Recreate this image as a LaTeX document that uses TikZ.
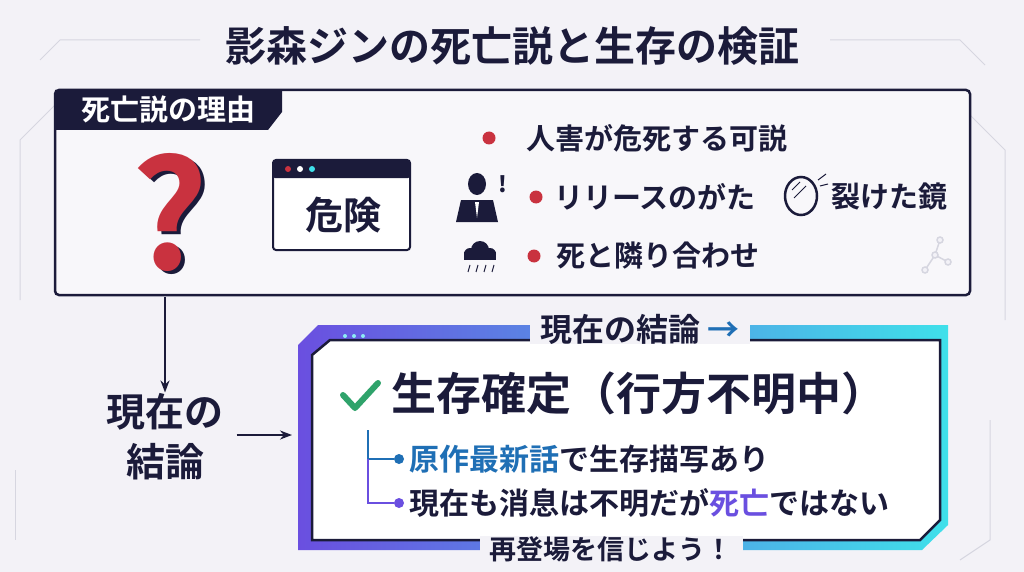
\documentclass[tikz,border=0pt]{standalone}
\usepackage{fontspec}
\setmainfont{Noto Sans CJK JP}[BoldFont={* Bold}]
\usetikzlibrary{arrows.meta}
\definecolor{navy}{HTML}{1B1B3A}
\definecolor{bgc}{HTML}{F3F2F7}
\definecolor{redd}{HTML}{C9323F}
\definecolor{blu}{HTML}{1F6FB5}
\definecolor{purp}{HTML}{6A4FE0}
\definecolor{cyn}{HTML}{3FE0EA}
\definecolor{grn}{HTML}{2FA36B}
\definecolor{faint}{HTML}{D6D6E0}
\tikzset{
  txt/.style={font=\bfseries, text=navy, inner sep=1pt},
  reason/.style={txt, anchor=west, font=\bfseries\fontsize{29}{32}\selectfont},
  bullet/.style={circle, fill=redd, minimum size=13pt, inner sep=0pt},
  circuit/.style={faint, line width=1pt}
}
\begin{document}
\begin{tikzpicture}[x=1pt,y=-1pt]
\useasboundingbox[fill=bgc] (0,0) rectangle (1024,572);
% background traces
\draw[circuit] (20,300) -- (20,140) -- (60,100) -- (200,100);
\draw[circuit] (1005,320) -- (1005,150) -- (970,115);
\draw[circuit] (990,420) -- (990,540) -- (960,560);
\draw[circuit] (15,470) -- (15,540);
\draw[circuit] (200,40) -- (60,40) -- (40,60);
\draw[circuit] (830,40) -- (960,40) -- (985,65);
% title
\node[txt, font=\bfseries\fontsize{41}{44}\selectfont] (title) at (512,46) {影森ジンの死亡説と生存の検証};
% reasons panel
\draw[navy, line width=2.5pt, rounded corners=4pt, fill=bgc!60!white] (55,90) rectangle (970,295);
\fill[navy] (55,90) -- (282,90) -- (282,112) -- (268,130) -- (55,130) -- cycle;
\node[font=\bfseries\fontsize{29}{32}\selectfont, text=white] (tab) at (168,110) {死亡説の理由};
\fill[navy] (174,215) node[font=\bfseries\fontsize{150}{150}\selectfont, text=navy] {?};
\node[font=\bfseries\fontsize{150}{150}\selectfont, text=redd] (qm) at (170,212) {?};
% danger window
\draw[navy, line width=2pt, fill=white, rounded corners=3pt] (273,160) rectangle (410,250);
\fill[navy, rounded corners=2pt] (273,160) rectangle (410,178);
\fill[redd] (288,169) circle (3pt);
\fill[white] (300,169) circle (3pt);
\fill[cyn] (312,169) circle (3pt);
\node[txt, font=\bfseries\fontsize{38}{40}\selectfont] (danger) at (343,215) {危険};
% reason bullets
\node[bullet] (b1) at (489,138) {};
\node[bullet] (b2) at (536,197) {};
\node[bullet] (b3) at (534,256) {};
\node[reason] (r1) at (525,138) {人害が危死する可説};
\node[reason] (r2) at (553,197) {リリースのがた};
\node[reason] (r2b) at (830,197) {裂けた鏡};
\node[reason] (r3) at (555,256) {死と隣り合わせ};
% icons
\fill[navy] (477,184) ellipse (9pt and 11pt);
\fill[navy] (456,222) -- (461,200) -- (493,200) -- (498,222) -- cycle;
\fill[white] (475,202) -- (479,202) -- (477,218) -- cycle;
\node[txt, font=\bfseries\itshape\fontsize{22}{22}\selectfont] at (503,184) {!};
\draw[navy, line width=2.5pt] (801,196) ellipse (16pt and 19pt);
\draw[navy, line width=1pt] (792,190) -- (800,182) (794,198) -- (806,186) (818,180) -- (826,174) (820,186) -- (828,184);
\fill[navy] (480,250) circle (9pt) (470,254) circle (6pt) (490,254) circle (6pt);
\fill[navy] (464,252) rectangle (496,260);
\draw[navy, line width=1pt] (470,265) -- (468,272) (478,265) -- (476,272) (486,265) -- (484,272) (494,265) -- (492,272);
\draw[faint, line width=1.5pt] (925,270) -- (935,255) -- (948,262) (935,255) -- (940,240);
\foreach \p in {(925,270),(935,255),(948,262),(940,240)} \draw[faint, line width=1.5pt, fill=bgc] \p circle (3pt);
% flow to conclusion
\node[txt, font=\bfseries\fontsize{39}{50}\selectfont, align=center] (concl) at (165,437) {現在の\\結論};
\coordinate (qbot) at (165,297);
\draw[navy, line width=2pt, -{Stealth[length=12pt]}] (qbot) -- (concl.north);
\coordinate (pleft) at (292,435);
\draw[navy, line width=2pt, -{Stealth[length=12pt]}] (concl.east) ++(12,-2) -- (pleft);
% conclusion panel
\shade[left color=purp, right color=cyn, middle color=purp!50!cyn] (298,345) -- (318,325) -- (948,325) -- (948,525) -- (922,550) -- (298,550) -- cycle;
\draw[navy, line width=2.5pt, fill=white] (312,355) -- (330,340) -- (940,340) -- (940,520) -- (920,540) -- (312,540) -- cycle;
\foreach \i in {0,1,2} \fill[cyn!60!white] (345+\i*9,336) circle (2pt);
\node[font=\bfseries\fontsize{32}{34}\selectfont, text=navy, fill=bgc, inner xsep=10pt, inner ysep=0pt] (hdr) at (640,329) {現在の結論 \textcolor{blu}{→}};
\node[font=\bfseries\fontsize{27}{30}\selectfont, text=navy, fill=bgc, inner xsep=10pt, inner ysep=0pt] (cheer) at (611,549) {再登場を信じよう！};
\draw[grn, line width=6pt, line cap=round, line join=round] (343,395) -- (355,408) -- (378,383);
\node[txt, anchor=west, font=\bfseries\fontsize{45}{48}\selectfont] (alive) at (390,393) {生存確定（行方不明中）};
\coordinate (tree) at (368,430);
\node[circle, fill=blu, minimum size=10pt, inner sep=0pt] (d1) at (399,459) {};
\node[circle, fill=purp, minimum size=10pt, inner sep=0pt] (d2) at (399,503) {};
\draw[blu, line width=2pt] (tree) |- (d1);
\draw[purp, line width=2pt] (368,459) |- (d2);
\node[txt, anchor=west, font=\bfseries\fontsize{30}{32}\selectfont] (f1) at (408,459) {\textcolor{blu}{原作最新話}で生存描写あり};
\node[txt, anchor=west, font=\bfseries\fontsize{30}{32}\selectfont] (f2) at (408,503) {現在も消息は不明だが\textcolor{purp}{死亡}ではない};
\end{tikzpicture}
\end{document}
